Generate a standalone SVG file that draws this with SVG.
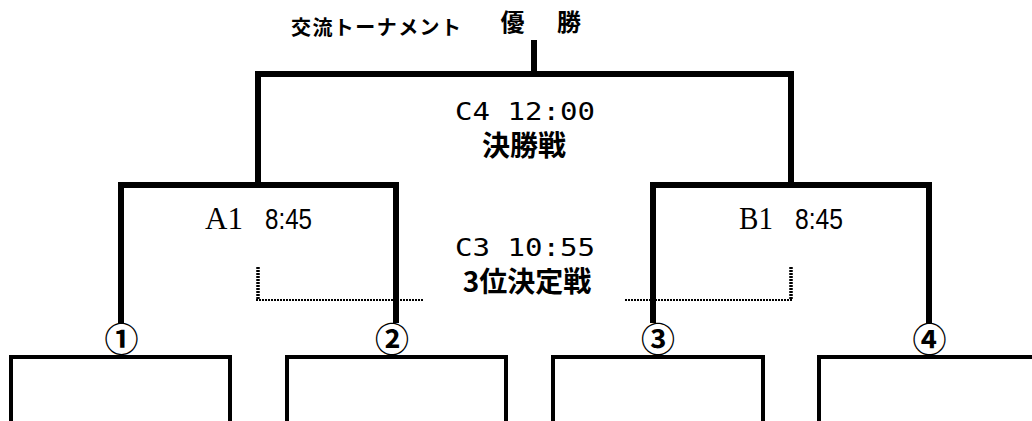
<svg xmlns="http://www.w3.org/2000/svg" width="1032" height="421" viewBox="0 0 1032 421">
<style>
.bk{fill:none;stroke:#000;stroke-width:6;stroke-linecap:square;stroke-linejoin:miter}
.dv{fill:none;stroke:#000;stroke-width:3.5;stroke-dasharray:2 1}
.dh{fill:none;stroke:#000;stroke-width:2;stroke-dasharray:2 1}
.box{fill:#fff;stroke:#000;stroke-width:4}
.jp{font-family:"Noto Sans CJK JP","Noto Sans CJK SC",sans-serif;fill:#000}
.num{font-family:"Noto Sans CJK JP","Noto Sans CJK SC",sans-serif;fill:#000;font-size:34px;font-weight:bold;text-anchor:middle}
.mono{font-family:"DejaVu Sans Mono","Liberation Mono",monospace;fill:#000}
.serif{font-family:"Liberation Serif",serif;fill:#000}
.sans{font-family:"Liberation Sans",sans-serif;fill:#000}
</style>
<rect width="1032" height="421" fill="#fff"/>
<g id="title">
<text class="jp" x="291" y="34.5" font-size="20" font-weight="bold" textLength="170" lengthAdjust="spacing">交流トーナメント</text>
<text class="jp" x="512.5" y="31" font-size="24" font-weight="bold" text-anchor="middle">優</text>
<text class="jp" x="569" y="31" font-size="24" font-weight="bold" text-anchor="middle">勝</text>
</g>
<g id="connectors">
<path class="bk" d="M534,43 V74 M258,185 V74 H791 V185"/>
<path class="bk" d="M121,320 V185 H396 V320"/>
<path class="bk" d="M653,320 V185 H929 V320"/>
<path class="dv" d="M258,267 V300"/>
<path class="dh" d="M256,300 H424"/>
<path class="dv" d="M791,267 V300"/>
<path class="dh" d="M625,300 H793"/>
</g>
<g id="final">
<text class="mono" x="525" y="120" font-size="24" text-anchor="middle" textLength="140" lengthAdjust="spacingAndGlyphs">C4 12:00</text>
<text class="jp" x="524" y="156" font-size="28" font-weight="bold" text-anchor="middle">決勝戦</text>
</g>
<g id="third">
<text class="mono" x="525" y="256" font-size="24" text-anchor="middle" textLength="140" lengthAdjust="spacingAndGlyphs">C3 10:55</text>
<text class="jp" x="527" y="292" font-size="28" font-weight="bold" text-anchor="middle">3位決定戦</text>
</g>
<g id="matchA">
<text class="serif" x="205" y="229" font-size="31" textLength="38" lengthAdjust="spacingAndGlyphs">A1</text>
<text class="sans" x="265" y="229" font-size="30" textLength="47" lengthAdjust="spacingAndGlyphs">8:45</text>
</g>
<g id="matchB">
<text class="serif" x="739" y="229" font-size="31" textLength="34" lengthAdjust="spacingAndGlyphs">B1</text>
<text class="sans" x="795" y="229" font-size="30" textLength="48" lengthAdjust="spacingAndGlyphs">8:45</text>
</g>
<g id="team1">
<text class="num" x="121.5" y="351.5">①</text>
<rect class="box" x="11" y="357" width="219" height="80"/>
</g>
<g id="team2">
<text class="num" x="392" y="351.5">②</text>
<rect class="box" x="287" y="357" width="219" height="80"/>
</g>
<g id="team3">
<text class="num" x="658" y="351.5">③</text>
<rect class="box" x="553" y="357" width="210" height="80"/>
</g>
<g id="team4">
<text class="num" x="929.5" y="351.5">④</text>
<rect class="box" x="819" y="357" width="230" height="80"/>
</g>
</svg>
